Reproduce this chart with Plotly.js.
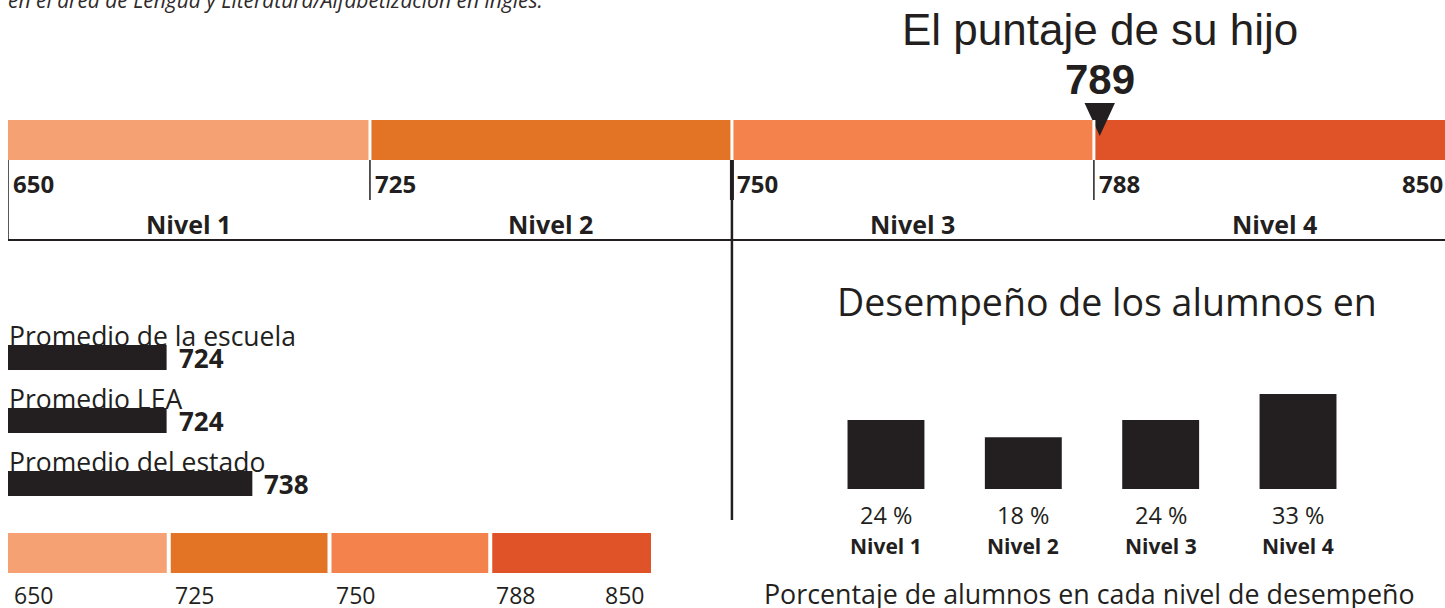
<!DOCTYPE html>
<html><head><meta charset="utf-8">
<script src="https://cdn.plot.ly/plotly-3.0.1.min.js"></script>
<style>html,body{margin:0;padding:0;background:#fff;overflow:hidden}#chart{width:1445px;height:608px}</style>
</head><body><div id="chart"></div>
<script>
// ---- data ----
const cutScores = [650, 725, 750, 788, 850];
const levelNames = ['Nivel 1', 'Nivel 2', 'Nivel 3', 'Nivel 4'];
const childScore = 789;
const avgLabels = ['Promedio de la escuela', 'Promedio LEA', 'Promedio del estado'];
const avgScores = [724, 724, 738];
const levelPercents = [24, 18, 24, 33];
const introText = 'en el área de Lengua y Literatura/Alfabetización en inglés.';
const titleText = 'El puntaje de su hijo';
const panelTitle = 'Desempeño de los alumnos en';
const captionText = 'Porcentaje de alumnos en cada nivel de desempeño';

// ---- style ----
const levelColors = ['#F5A174', '#E37426', '#F3824C', '#E05227'];
const INK = '#231F20';
const W = 1445, H = 608;
const px = p => p / W;
const py = p => 1 - p / H;
const ydom = (top, bottom) => [1 - bottom / H, 1 - top / H];

// piecewise mapping of a score onto the level-segment scale
function scoreToPos(s) {
  for (let i = 0; i < cutScores.length - 1; i++) {
    if (s <= cutScores[i + 1]) return i + (s - cutScores[i]) / (cutScores[i + 1] - cutScores[i]);
  }
  return cutScores.length - 1;
}
const nSeg = levelNames.length;
const segIdx = levelNames.map((_, i) => i);
const childPos = scoreToPos(childScore);

const hidden = {visible: false, showgrid: false, zeroline: false, fixedrange: true};

const traces = [
  // top level bar
  {type: 'bar', orientation: 'h', x: segIdx.map(() => 1), base: segIdx, y: segIdx.map(() => 0.5),
   width: 1, marker: {color: levelColors, line: {width: 0}}, xaxis: 'x', yaxis: 'y', hoverinfo: 'skip'},
  // marker triangle for the child's score
  {type: 'scatter', mode: 'lines', x: [childPos - 0.042, childPos + 0.042, childPos, childPos - 0.042],
   y: [1.425, 1.425, 0.6, 1.425], fill: 'toself', fillcolor: INK, line: {width: 0, color: INK},
   xaxis: 'x', yaxis: 'y', hoverinfo: 'skip'},
  // averages
  {type: 'bar', orientation: 'h', x: avgScores.map(scoreToPos), base: avgScores.map(() => 0),
   y: avgScores.map((_, i) => i), width: 0.397, marker: {color: INK, line: {width: 0}},
   xaxis: 'x2', yaxis: 'y2', hoverinfo: 'skip'},
  // bottom-left small level bar
  {type: 'bar', orientation: 'h', x: segIdx.map(() => 1), base: segIdx, y: segIdx.map(() => 0.5),
   width: 1, marker: {color: levelColors, line: {width: 0}}, xaxis: 'x2', yaxis: 'y3', hoverinfo: 'skip'},
  // percentages per level
  {type: 'bar', x: levelNames, y: levelPercents, width: 0.56, marker: {color: INK, line: {width: 0}},
   xaxis: 'x3', yaxis: 'y4', hoverinfo: 'skip'}
];

const annotations = [];
const shapes = [];
const ann = o => annotations.push(Object.assign({showarrow: false, borderpad: 0}, o));

ann({text: '<i>' + introText + '</i>', xref: 'paper', yref: 'paper', x: px(7), y: 1, xanchor: 'left',
     yanchor: 'bottom', yshift: -15, font: {family: 'Open Sans', size: 21, color: '#2f2a2b'}});
ann({text: titleText, xref: 'x', yref: 'paper', x: childPos, y: py(30), xanchor: 'center', yanchor: 'middle',
     font: {family: 'Liberation Sans, Arial', size: 44, color: INK}});
ann({text: '<b>' + childScore + '</b>', xref: 'x', yref: 'paper', x: childPos, y: py(79), xanchor: 'center',
     yanchor: 'middle', font: {family: 'Liberation Sans, Arial', size: 42, color: INK}});

// top tick labels and level names
cutScores.forEach((c, i) => {
  const last = i === cutScores.length - 1;
  ann({text: '<b>' + c + '</b>', xref: last ? 'paper' : 'x', yref: 'paper', x: last ? 1 : i, y: py(184),
       xanchor: last ? 'right' : 'left', xshift: last ? -1 : 4, yanchor: 'middle',
       font: {family: 'Open Sans', size: 24, color: INK}});
});
levelNames.forEach((n, i) => {
  ann({text: '<b>' + n + '</b>', xref: 'x', yref: 'paper', x: i + 0.5, y: py(223.5), xanchor: 'center',
       yanchor: 'middle', font: {family: 'Open Sans', size: 25, color: INK}});
});
// white separators in top bar
for (let i = 1; i < nSeg; i++) {
  shapes.push({type: 'line', xref: 'x', yref: 'y', x0: i, x1: i, y0: 0, y1: 1, line: {color: '#fff', width: 3}});
}
// ticks below the top bar
[[0, 160, 240, 1.5], [1, 160, 200, 1.5], [3, 160, 200, 1.5], [2, 160, 520, 2.5], [2, 160, 200, 4]].forEach(t => {
  shapes.push({type: 'line', xref: 'x', yref: 'paper', x0: t[0], x1: t[0], y0: py(t[1]), y1: py(t[2]),
               line: {color: INK, width: t[3]}});
});
shapes.push({type: 'line', xref: 'paper', yref: 'paper', x0: px(8), x1: 1, y0: py(240), y1: py(240),
             line: {color: INK, width: 2}});

// averages labels
avgLabels.forEach((l, i) => {
  ann({text: l, xref: 'x2', yref: 'y2', x: 0, y: i, xanchor: 'left', yanchor: 'middle', yshift: 22,
       font: {family: 'Open Sans', size: 26.5, color: INK}});
  ann({text: '<b>' + avgScores[i] + '</b>', xref: 'x2', yref: 'y2', x: scoreToPos(avgScores[i]), y: i,
       xanchor: 'left', xshift: 11, yanchor: 'middle', font: {family: 'Open Sans', size: 26, color: INK}});
});
// bottom-left bar separators and labels
for (let i = 1; i < nSeg; i++) {
  shapes.push({type: 'line', xref: 'x2', yref: 'y3', x0: i, x1: i, y0: 0, y1: 1, line: {color: '#fff', width: 4}});
}
cutScores.forEach((c, i) => {
  const last = i === cutScores.length - 1;
  ann({text: String(c), xref: 'x2', yref: 'paper', x: i, y: py(595), xanchor: last ? 'right' : 'left',
       xshift: last ? -6 : 5, yanchor: 'middle', font: {family: 'Open Sans', size: 23, color: INK}});
});

// right panel
ann({text: panelTitle, xref: 'paper', yref: 'paper', x: px(1107), y: py(301), xanchor: 'center', yanchor: 'middle',
     font: {family: 'Open Sans', size: 37.5, color: INK}});
levelNames.forEach((n, i) => {
  ann({text: levelPercents[i] + ' %', xref: 'x3', yref: 'paper', x: n, y: py(515), xanchor: 'center',
       yanchor: 'middle', font: {family: 'Open Sans', size: 23.5, color: INK}});
  ann({text: '<b>' + n + '</b>', xref: 'x3', yref: 'paper', x: n, y: py(546), xanchor: 'center',
       yanchor: 'middle', font: {family: 'Open Sans', size: 21, color: INK}});
});
ann({text: captionText, xref: 'paper', yref: 'paper', x: px(1089), y: py(593), xanchor: 'center', yanchor: 'middle',
     font: {family: 'Open Sans', size: 26.8, color: INK}});

const layout = {
  width: W, height: H, margin: {l: 0, r: 0, t: 0, b: 0, pad: 0},
  paper_bgcolor: '#fff', plot_bgcolor: 'rgba(0,0,0,0)', showlegend: false, barmode: 'overlay',
  font: {family: 'Open Sans', color: INK},
  xaxis: Object.assign({domain: [px(8), 1], range: [0, 3.97]}, hidden, {anchor: 'y'}),
  yaxis: Object.assign({domain: ydom(100, 160), range: [0, 1.5]}, hidden, {anchor: 'x'}),
  xaxis2: Object.assign({domain: [px(8), px(651)], range: [0, 4]}, hidden, {anchor: 'y2'}),
  yaxis2: Object.assign({domain: ydom(326, 515), range: [2.5, -0.5]}, hidden, {anchor: 'x2'}),
  yaxis3: Object.assign({domain: ydom(533, 573), range: [0, 1]}, hidden, {anchor: 'x2'}),
  xaxis3: Object.assign({domain: [px(817.3), px(1366.7)], type: 'category', range: [-0.5, 3.5]}, hidden, {anchor: 'y4'}),
  yaxis4: Object.assign({domain: ydom(380, 489), range: [0, 37.85]}, hidden, {anchor: 'x3'}),
  annotations: annotations, shapes: shapes
};

Plotly.newPlot('chart', traces, layout, {displayModeBar: false, staticPlot: true});
</script></body></html>
